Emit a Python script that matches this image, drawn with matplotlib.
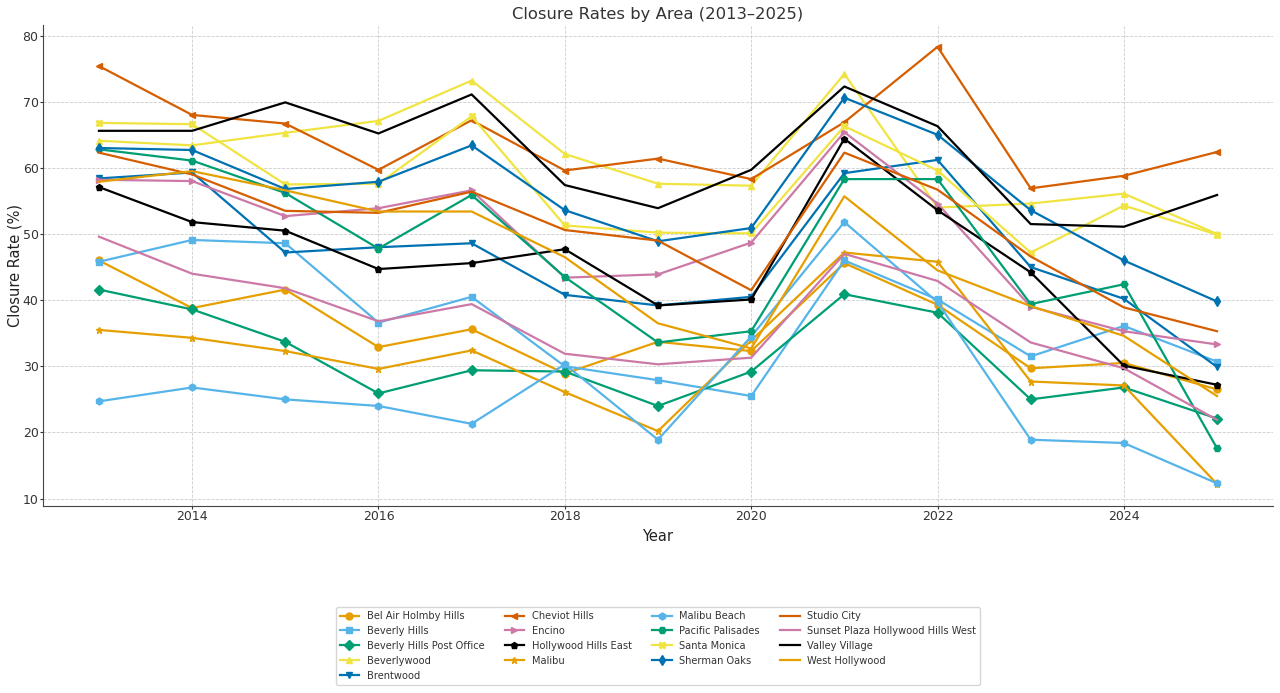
import matplotlib
matplotlib.use("Agg")
import matplotlib.pyplot as plt

years = list(range(2013, 2026))

areas = [
    "Bel Air Holmby Hills", "Beverly Hills", "Beverly Hills Post Office", "Beverlywood",
    "Brentwood", "Cheviot Hills", "Encino", "Hollywood Hills East", "Malibu",
    "Malibu Beach", "Pacific Palisades", "Santa Monica", "Sherman Oaks",
    "Studio City", "Sunset Plaza Hollywood Hills West", "Valley Village", "West Hollywood",
]

bel_air = [46.0, 38.8, 41.6, 32.9, 35.6, 28.9, 33.7, 32.3, 45.6, 39.3, 29.7, 30.5, 26.5]
beverly_hills = [45.8, 49.1, 48.6, 36.6, 40.5, 30.0, 27.9, 25.5, 46.0, 40.1, 31.5, 36.1, 30.7]
bhpo = [41.6, 38.6, 33.7, 25.9, 29.4, 29.2, 24.0, 29.2, 40.9, 38.1, 25.0, 26.8, 22.1]
beverlywood = [64.1, 63.4, 65.3, 67.1, 73.2, 62.1, 57.6, 57.3, 74.2, 54.0, 54.6, 56.1, 50.0]
brentwood = [58.4, 59.3, 47.2, 48.0, 48.6, 40.8, 39.2, 40.5, 59.2, 61.2, 45.0, 40.2, 29.9]
cheviot = [75.4, 68.0, 66.7, 59.7, 67.2, 59.6, 61.4, 58.3, 66.9, 78.3, 56.9, 58.8, 62.4]
encino = [58.2, 58.0, 52.7, 53.9, 56.6, 43.4, 43.9, 48.7, 65.4, 54.6, 39.0, 35.3, 33.3]
hh_east = [57.1, 51.8, 50.5, 44.7, 45.6, 47.7, 39.2, 40.1, 64.4, 53.6, 44.2, 30.1, 27.2]
malibu = [35.5, 34.3, 32.3, 29.6, 32.4, 26.1, 20.2, 33.9, 47.2, 45.8, 27.7, 27.1, 12.2]
malibu_beach = [24.7, 26.8, 25.0, 24.0, 21.3, 30.3, 18.9, 34.5, 51.8, 39.7, 18.9, 18.4, 12.3]
pac_pal = [62.8, 61.1, 56.2, 47.8, 55.9, 43.5, 33.6, 35.3, 58.3, 58.3, 39.4, 42.4, 17.6]
santa_monica = [66.8, 66.6, 57.5, 57.6, 67.8, 51.3, 50.2, 50.1, 66.3, 59.6, 47.2, 54.3, 49.9]
sherman_oaks = [63.0, 62.7, 56.8, 57.9, 63.4, 53.6, 48.9, 50.9, 70.6, 65.0, 53.6, 46.0, 39.8]
studio_city = [62.3, 59.0, 53.5, 53.2, 56.4, 50.6, 49.0, 41.5, 62.3, 56.7, 46.6, 38.9, 35.3]
sunset_plaza = [49.6, 44.0, 41.8, 36.8, 39.4, 31.9, 30.3, 31.3, 47.0, 42.9, 33.6, 29.7, 21.9]
valley_village = [65.6, 65.6, 69.9, 65.2, 71.1, 57.4, 53.9, 59.7, 72.3, 66.3, 51.5, 51.1, 55.9]
west_hollywood = [57.9, 59.5, 56.6, 53.4, 53.4, 46.5, 36.5, 32.7, 55.7, 44.5, 39.1, 34.6, 25.5]

series = [bel_air, beverly_hills, bhpo, beverlywood, brentwood, cheviot, encino, hh_east,
          malibu, malibu_beach, pac_pal, santa_monica, sherman_oaks, studio_city,
          sunset_plaza, valley_village, west_hollywood]

palette = ["#E69F00", "#56B4E9", "#009E73", "#F0E442", "#0072B2", "#D55E00", "#CC79A7", "#000000"]
markers = ["o", "s", "D", "^", "v", "<", ">", "p", "*", "h", "H", "X", "d"]

fig = plt.figure(figsize=(12.8, 6.93), dpi=100)
ax = fig.add_axes([0.0336, 0.270, 0.9609, 0.694])

for i, (name, vals) in enumerate(zip(areas, series)):
    mk = markers[i] if i < len(markers) else None
    ax.plot(years, vals, color=palette[i % len(palette)], marker=mk, markersize=5,
            linewidth=1.6, label=name)

ax.set_title("Closure Rates by Area (2013\u20132025)", fontsize=11.8, color="#333333", pad=4)
ax.set_xlabel("Year", fontsize=10.5, color="#222222")
ax.set_ylabel("Closure Rate (%)", fontsize=10.5, color="#222222")
ax.yaxis.set_label_coords(-0.017, 0.5)
ax.tick_params(labelsize=9, colors="#333333", length=2, pad=1.2)
ax.grid(True, linestyle="--", color="#cccccc", linewidth=0.6)
ax.spines["top"].set_visible(False)
ax.spines["right"].set_visible(False)
ax.spines["left"].set_color("#444444")
ax.spines["bottom"].set_color("#444444")

ax.legend(loc="upper center", bbox_to_anchor=(0.5, -0.2), ncol=4, fontsize=7.1,
          frameon=True, edgecolor="#cccccc", labelcolor="#333333")

fig.savefig("out.png", dpi=100)
